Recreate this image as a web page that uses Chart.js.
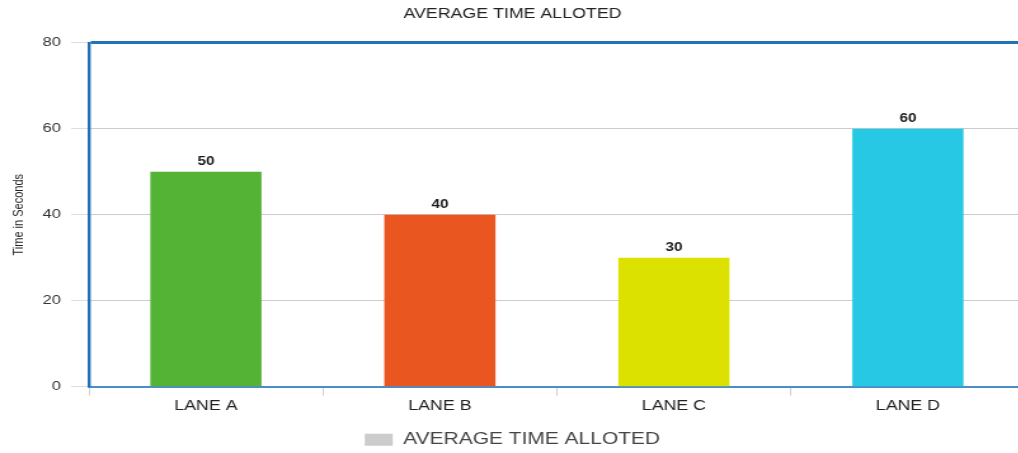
<!DOCTYPE html>
<html>
<head>
<meta charset="utf-8">
<title>Average Time Alloted</title>
<script src="https://cdn.jsdelivr.net/npm/chart.js@4/dist/chart.umd.min.js"></script>
<style>
  html, body { margin: 0; padding: 0; background: #ffffff; overflow: hidden; }
  #wrap { width: 810px; height: 453px; transform: scaleX(1.27); transform-origin: 0 0; }
  canvas { display: block; }
</style>
</head>
<body>
<div id="wrap"><canvas id="chart" width="810" height="453"></canvas></div>
<script>
// Lanes and the average time allotted to each (seconds)
const lanes = ['LANE A', 'LANE B', 'LANE C', 'LANE D'];
const avgTime = [50, 40, 30, 60];
const yTicks = [0, 20, 40, 60, 80];
const barColors = ['#54b234', '#e9561f', '#dde100', '#27c8e3'];
const seriesName = 'AVERAGE TIME ALLOTED';

Chart.defaults.font.family = "'Liberation Sans', Arial, Helvetica, sans-serif";

// Value labels above each bar
const valueLabels = {
  id: 'valueLabels',
  afterDatasetsDraw(chart) {
    const ctx = chart.ctx;
    const meta = chart.getDatasetMeta(0);
    const data = chart.data.datasets[0].data;
    ctx.save();
    ctx.font = "bold 12px 'Liberation Sans', Arial, sans-serif";
    ctx.fillStyle = '#1a1a1a';
    ctx.textAlign = 'center';
    ctx.textBaseline = 'alphabetic';
    meta.data.forEach((bar, i) => {
      ctx.fillText(String(data[i]), bar.x, bar.y - 7);
    });
    ctx.restore();
  }
};

new Chart(document.getElementById('chart'), {
  type: 'bar',
  data: {
    labels: lanes,
    datasets: [{
      label: seriesName,
      data: avgTime,
      backgroundColor: barColors,
      borderWidth: 0,
      categoryPercentage: 1,
      barPercentage: 0.475
    }]
  },
  options: {
    responsive: false,
    animation: false,
    layout: { padding: { left: 0, right: 3, top: 0, bottom: -5 } },
    plugins: {
      title: {
        display: true,
        text: seriesName,
        color: '#222',
        font: { size: 14, weight: 'normal' },
        padding: { top: 6, bottom: 20 }
      },
      legend: {
        display: true,
        position: 'bottom',
        labels: {
          boxWidth: 22,
          boxHeight: 12,
          padding: 15,
          color: '#444',
          font: { size: 16.5 },
          generateLabels: () => [{
            text: seriesName,
            fillStyle: '#cccccc',
            strokeStyle: '#cccccc',
            lineWidth: 0,
            hidden: false,
            datasetIndex: 0,
            fontColor: '#444'
          }]
        },
        onClick: null
      },
      tooltip: { enabled: false }
    },
    scales: {
      x: {
        offset: true,
        grid: {
          display: true,
          drawOnChartArea: false,
          color: '#cfcfcf',
          tickLength: 9
        },
        border: { display: true, color: '#4b8ec6', width: 2 },
        ticks: { color: '#222', font: { size: 14 }, padding: 2 }
      },
      y: {
        min: yTicks[0],
        max: yTicks[yTicks.length - 1],
        afterBuildTicks: (scale) => { scale.ticks = yTicks.map(v => ({ value: v })); },
        afterFit: (scale) => { scale.width = 70; },
        title: {
          display: true,
          text: 'Time in Seconds',
          color: '#222',
          font: { size: 11 },
          padding: { top: 8, bottom: 0 }
        },
        grid: {
          color: (c) => (c.tick && c.tick.value === 80 ? '#1f74b8' : '#cccccc'),
          lineWidth: (c) => (c.tick && c.tick.value === 80 ? 3 : 1),
          tickColor: '#dddddd',
          tickWidth: 1,
          tickLength: 14
        },
        border: { display: true, color: '#1f70b6', width: 2.4 },
        ticks: { color: '#333', font: { size: 13 }, padding: 8 }
      }
    }
  },
  plugins: [valueLabels]
});
</script>
</body>
</html>
